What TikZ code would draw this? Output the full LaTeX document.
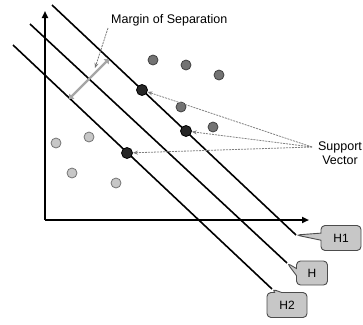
\documentclass[tikz,border=0pt]{standalone}
\usepackage{fontspec}
\setmainfont{Liberation Sans}
\usetikzlibrary{arrows.meta,shapes.callouts}
\begin{document}
\begin{tikzpicture}[x=1pt,y=-1pt,
  axis/.style={line width=1.8pt,-{Triangle[length=7pt,width=6pt]}},
  hline/.style={line width=1.6pt},
  dotA/.style={circle,draw=black!75,line width=0.8pt,fill=black!55,minimum size=10pt,inner sep=0pt},
  dotB/.style={circle,draw=black!55,line width=0.8pt,fill=black!22,minimum size=10pt,inner sep=0pt},
  svdot/.style={circle,draw=black,line width=0.8pt,fill=black!85,minimum size=11pt,inner sep=0pt},
  svline/.style={draw=black!50,line width=0.8pt,dash pattern=on 2pt off 1pt,-{Stealth[length=5pt,width=4pt]}},
  margline/.style={draw=black!35,line width=2.2pt,{Triangle[length=4pt,width=7pt]}-{Triangle[length=4pt,width=7pt]}},
  lab/.style={rectangle callout,rounded corners=4pt,draw=black!70,fill=black!22,line width=0.9pt,
    font=\fontsize{12}{14}\selectfont,inner sep=0pt},
  txt/.style={font=\fontsize{12.5}{13}\selectfont,inner sep=0pt}
]
\useasboundingbox (0,0) rectangle (363,324);

% axes
\coordinate (o) at (45,220);
\coordinate (ytop) at (45,11);
\coordinate (xend) at (309,220);
\draw[axis] (o) -- (ytop);
\draw[axis] (o) -- (xend);

% hyperplanes
\coordinate (h1s) at (52,5);
\coordinate (h1e) at (296,235);
\coordinate (hs) at (30,24);
\coordinate (he) at (287,263);
\coordinate (h2s) at (13,45);
\coordinate (h2e) at (272,289);
\draw[hline] (h1s) -- (h1e);
\draw[hline] (hs) -- (he);
\draw[hline] (h2s) -- (h2e);

% callouts
\node[lab,minimum width=40pt,minimum height=25pt,callout absolute pointer={(h1e)}] (lh1) at (341,238) {H1};
\node[lab,minimum width=31pt,minimum height=24pt,callout absolute pointer={(he)}] (lh) at (312,273) {H};
\node[lab,minimum width=40pt,minimum height=25pt,callout absolute pointer={(h2e)}] (lh2) at (287,305) {H2};

% margin of separation
\coordinate (m1) at (69,99);
\coordinate (m2) at (109,59);
\draw[margline] (m1) -- (m2);
\node[txt,anchor=west] (mtxt) at (111,20) {Margin of Separation};
\coordinate (mt) at (108,28);
\coordinate (mp) at (95,68);
\draw[draw=black!55,line width=0.8pt,dash pattern=on 2pt off 1pt,-{Stealth[length=5pt,width=4pt]}] (mt) -- (mp);

% class A dots
\node[dotA] (a1) at (153,60) {};
\node[dotA] (a2) at (186,65) {};
\node[dotA] (a3) at (219,75) {};
\node[dotA] (a4) at (181,107) {};
\node[dotA] (a5) at (213,127) {};
% class B dots
\node[dotB] (b1) at (56,143) {};
\node[dotB] (b2) at (89,137) {};
\node[dotB] (b3) at (72,173) {};
\node[dotB] (b4) at (116,183) {};
% support vectors
\node[svdot] (s1) at (142,90) {};
\node[svdot] (s2) at (186,131) {};
\node[svdot] (s3) at (127,153) {};

% support vector label
\node[txt,align=center] (svlab) at (340,153) {Support\\[1pt]Vector};
\coordinate (sv) at (312,147);
\draw[svline] (sv) -- (s1);
\draw[svline] (sv) -- (s2);
\draw[svline] (sv) -- (s3);
\end{tikzpicture}
\end{document}
